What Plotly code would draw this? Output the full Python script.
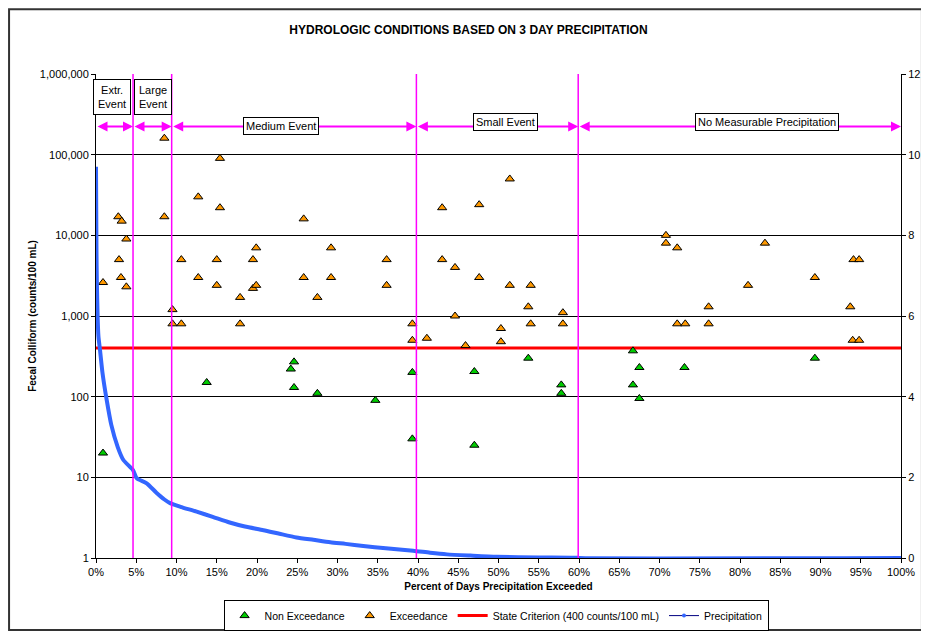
import plotly.graph_objects as go

# ---------------------------------------------------------------
# data
non_exc_pct = [0.87, 13.75, 24.6, 24.2, 24.6, 27.5, 34.7, 39.3, 39.3, 47.0, 47.0,
               53.7, 57.8, 57.8, 66.7, 66.7, 67.5, 67.5, 73.1, 89.3]
non_exc_val = [20, 150, 270, 220, 130, 110, 90, 200, 30, 205, 25,
               300, 140, 110, 370, 140, 230, 95, 230, 300]

exc_pct = [0.87, 2.77, 2.86, 3.1, 3.19, 3.77, 3.77, 8.49, 8.49, 9.5, 9.5, 10.6, 10.6,
           12.7, 12.7, 15.0, 15.0, 15.4, 15.4, 17.9, 17.9, 19.5, 19.5, 19.9, 19.9,
           25.8, 25.8, 27.5, 29.2, 29.2, 36.1, 36.1, 39.3, 39.3, 41.1, 43.0, 43.0,
           44.6, 44.6, 45.9, 47.6, 47.6, 50.3, 50.3, 51.4, 51.4, 53.7, 54.0, 54.0,
           58.0, 58.0, 70.8, 70.8, 72.2, 72.2, 73.2, 76.1, 76.1, 81.0, 83.1, 89.3,
           93.7, 94.0, 94.1, 94.8, 94.8]
exc_val = [2600, 17000, 5000, 3000, 15000, 9000, 2300, 160000, 17000, 1200, 800, 5000, 800,
           30000, 3000, 5000, 2400, 90000, 22000, 1700, 800, 5000, 2200, 7000, 2400,
           16000, 3000, 1700, 7000, 3000, 5000, 2400, 800, 500, 530, 22000, 5000,
           4000, 1000, 430, 24000, 3000, 700, 480, 50000, 2400, 1300, 2400, 800,
           1100, 800, 10000, 8000, 7000, 800, 800, 1300, 800, 2400, 8000, 3000,
           1300, 500, 5000, 5000, 500]

criterion_pct = [0, 100]
criterion_val = [400, 400]

precip_pct = [0, 0.03, 0.06, 0.1, 0.2, 0.3, 0.5, 0.8, 1.3, 1.9, 2.7, 3.4, 4.6, 5.05,
              6.3, 7.5, 8.5, 9.2, 10.5, 12.5, 14.5, 16.6, 18.5, 20.8, 22.8, 24.9,
              27, 29.1, 31, 33.2, 36, 39.4, 41.5, 43.6, 46.5, 49.8, 55, 59.9, 60, 100]
precip_in = [9.7, 8.6, 7.6, 6.9, 6.0, 5.5, 5.15, 4.6, 3.95, 3.3, 2.75, 2.43, 2.18, 1.98,
             1.85, 1.62, 1.45, 1.36, 1.27, 1.15, 1.02, 0.88, 0.78, 0.69, 0.60, 0.51,
             0.45, 0.39, 0.35, 0.30, 0.24, 0.18, 0.13, 0.09, 0.06, 0.03, 0.015, 0.005, 0, 0]

# hydrologic condition boundaries (percent)
bounds = [0, 4.6, 9.4, 39.8, 59.9, 100]
event_labels = ["Extr.<br>Event", "Large<br>Event", "Medium Event", "Small Event",
                "No Measurable Precipitation"]

x_ticks = list(range(0, 101, 5))
y_ticks = [1, 10, 100, 1000, 10000, 100000, 1000000]

# ---------------------------------------------------------------
MAGENTA = "#FF00FF"
font = "Liberation Sans, Arial, sans-serif"

fig = go.Figure()

# precipitation curve (right axis)
fig.add_trace(go.Scatter(x=precip_pct, y=precip_in, yaxis="y2", mode="lines",
                         line=dict(color="#3366FF", width=4, shape="spline", smoothing=0.6),
                         showlegend=False, hoverinfo="skip"))

fig.add_trace(go.Scatter(x=criterion_pct, y=criterion_val, mode="lines",
                         name="State Criterion (400 counts/100 mL)",
                         line=dict(color="#FF0000", width=3), showlegend=False))

fig.add_trace(go.Scatter(x=non_exc_pct, y=non_exc_val, mode="markers", name="Non Exceedance",
                         marker=dict(symbol="triangle-up", size=8, color="#00CC00",
                                     line=dict(color="black", width=1))))
fig.add_trace(go.Scatter(x=exc_pct, y=exc_val, mode="markers", name="Exceedance",
                         marker=dict(symbol="triangle-up", size=8, color="#FF9900",
                                     line=dict(color="black", width=1))))
# legend entries
fig.add_trace(go.Scatter(x=[None], y=[None], mode="lines",
                         name="State Criterion (400 counts/100 mL)",
                         line=dict(color="#FF0000", width=3)))
fig.add_trace(go.Scatter(x=[None], y=[None], mode="lines+markers", name="Precipitation",
                         line=dict(color="#000080", width=1),
                         marker=dict(color="#3366FF", size=4)))

# vertical boundaries
for b in bounds[1:-1]:
    fig.add_shape(type="line", xref="x", yref="paper", x0=b, x1=b, y0=0, y1=1,
                  line=dict(color=MAGENTA, width=1.5))

# double-headed arrows for each condition
for i in range(len(bounds) - 1):
    fig.add_annotation(x=bounds[i + 1], y=10.7, ax=bounds[i], ay=10.7,
                       xref="x", yref="y2", axref="x", ayref="y2",
                       text="", showarrow=True, arrowhead=2, arrowside="end+start",
                       arrowsize=1, arrowwidth=2, arrowcolor=MAGENTA)

label_pos = [(1.93, 11.43), (7.1, 11.43), (23.0, 10.7), (50.9, 10.8), (83.4, 10.8)]
label_pad = [4, 4, 2, 2, 2]
for (lx, ly), txt, pad in zip(label_pos, event_labels, label_pad):
    fig.add_annotation(x=lx, y=ly, xref="x", yref="y2", text=txt, showarrow=False,
                       font=dict(size=11, color="black", family=font),
                       bgcolor="white", bordercolor="black", borderwidth=1, borderpad=pad)

# outer chart border
fig.add_shape(type="rect", xref="paper", yref="paper",
              x0=-0.108, x1=1.026, y0=-0.149, y1=1.134,
              line=dict(color="#333333", width=2))

# page body has an 8px margin, so the figure is 8px smaller and margins shifted
fig.update_layout(
    width=921, height=629,
    margin=dict(l=88, r=28, t=66, b=79, autoexpand=False),
    plot_bgcolor="white", paper_bgcolor="white",
    font=dict(family=font, size=11, color="black"),
    title=dict(text="<b>HYDROLOGIC CONDITIONS BASED ON 3 DAY PRECIPITATION</b>",
               x=0.5, xanchor="center", y=0.966, yanchor="middle",
               font=dict(size=12, family=font)),
    xaxis=dict(range=[0, 100], tickvals=x_ticks, ticktext=[f"{t}%" for t in x_ticks],
               showgrid=False, zeroline=False, showline=True, linecolor="black",
               ticks="outside", ticklen=4, tickcolor="black", automargin=False,
               title=dict(text="<b>Percent of Days Precipitation Exceeded</b>",
                          font=dict(size=10), standoff=5)),
    yaxis=dict(type="log", range=[0, 6], tickvals=y_ticks,
               ticktext=[f"{t:,}" for t in y_ticks],
               showgrid=True, gridcolor="black", gridwidth=1, zeroline=False,
               showline=True, linecolor="black", ticks="outside", ticklen=4,
               tickcolor="black", automargin=False,
               title=dict(text="<b>Fecal Colliform (counts/100 mL)</b>",
                          font=dict(size=10), standoff=1)),
    yaxis2=dict(overlaying="y", side="right", range=[0, 12], dtick=2,
                showgrid=False, zeroline=False, showline=True, linecolor="black",
                ticks="outside", ticklen=4, tickcolor="black", automargin=False),
    legend=dict(orientation="h", x=0.497, xanchor="center", y=-0.087, yanchor="top",
                bordercolor="black", borderwidth=1, font=dict(size=10.5),
                traceorder="normal", itemwidth=30, tracegroupgap=0),
)

fig.write_html("out.html")
